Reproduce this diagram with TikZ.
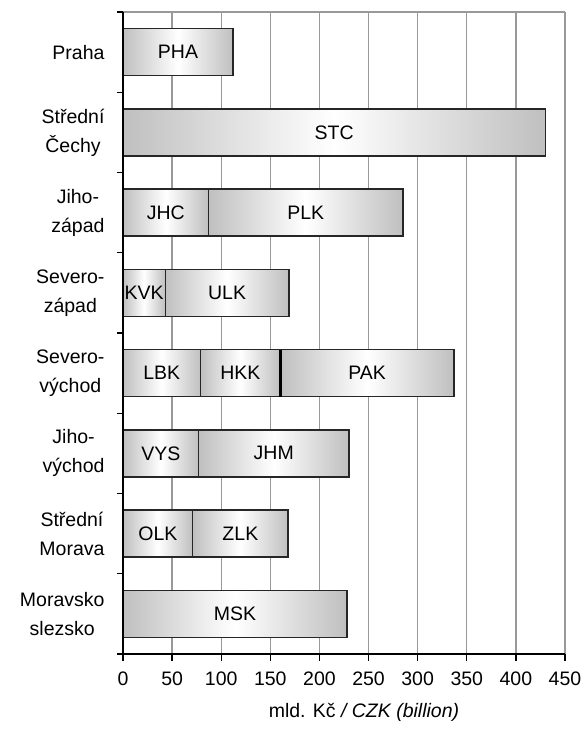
\documentclass[tikz,border=0pt]{standalone}
\usepackage{fontspec}
\setmainfont{Liberation Sans}

\newlength\BarHalf
\setlength\BarHalf{23.5bp}

\tikzset{
  barseg/.style={draw=black!85, line width=1.3bp,
    left color=gray!50, right color=gray!50, middle color=white},
  gridline/.style={draw=gray!80, line width=1.3bp},
  axisline/.style={draw=black, line width=1.3bp},
  catlabel/.style={anchor=east, align=center},
}

\begin{document}
\begin{tikzpicture}[x=1bp, y=-1bp, font=\fontsize{19.5bp}{29bp}\selectfont]
  \useasboundingbox (0,0) rectangle (582,730);
  \begin{scope}[shift={(123,0)}, x=0.9822bp]
    % grid
    \draw[gridline] (0,12) -- (450,12);
    \foreach \v in {50,100,...,450}
      \draw[gridline] (\v,12) -- (\v,654);
    % bars: row/start/end/label
    \foreach \r/\a/\b/\t in {0/0/112/PHA, 1/0/430/STC,
        2/0/87/JHC, 2/87/285/PLK, 3/0/43/KVK, 3/43/169/ULK,
        4/0/79/LBK, 4/79/160/HKK, 4/160/337/PAK,
        5/0/77/VYS, 5/77/230/JHM, 6/0/71/OLK, 6/71/168/ZLK,
        7/0/228/MSK}
      \path[barseg] (\a,{12+80.25*(\r+0.5)}) ++(0,-\BarHalf)
        rectangle ++({\b-\a},2\BarHalf) node[midway] (\t) {\t};
    \coordinate (hkktop) at (160,{12+80.25*4.5-23.5});
    \coordinate (hkkbot) at (160,{12+80.25*4.5+23.5});
    \draw[line width=3bp] (hkktop) -- (hkkbot);
    % axes
    \draw[axisline] (0,12) -- (0,654) -- (450,654);
    \foreach \k in {0,...,8}
      \draw[axisline] (0,{12+80.25*\k}) -- ++(-6,0);
    \foreach \v in {0,50,...,450} {
      \draw[axisline] (\v,654) -- (\v,661);
      \node (tick\v) at (\v,679) {\v};
    }
  \end{scope}
  % categories
  \node[catlabel] (praha) at (108,52.1) {Praha};
  \node[catlabel] (stc) at (108,132.4) {Střední\\Čechy};
  \node[catlabel] (jz) at (108,212.6) {Jiho-\\západ};
  \node[catlabel] (sz) at (108,292.9) {Severo-\\západ};
  \node[catlabel] (sv) at (108,373.1) {Severo-\\východ};
  \node[catlabel] (jv) at (108,453.4) {Jiho-\\východ};
  \node[catlabel] (sm) at (108,533.6) {Střední\\Morava};
  \node[catlabel] (ms) at (108,613.9) {Moravsko\\slezsko};
  \node (title) at (364,712) {mld. Kč \textit{/ CZK (billion)}};
\end{tikzpicture}
\end{document}
